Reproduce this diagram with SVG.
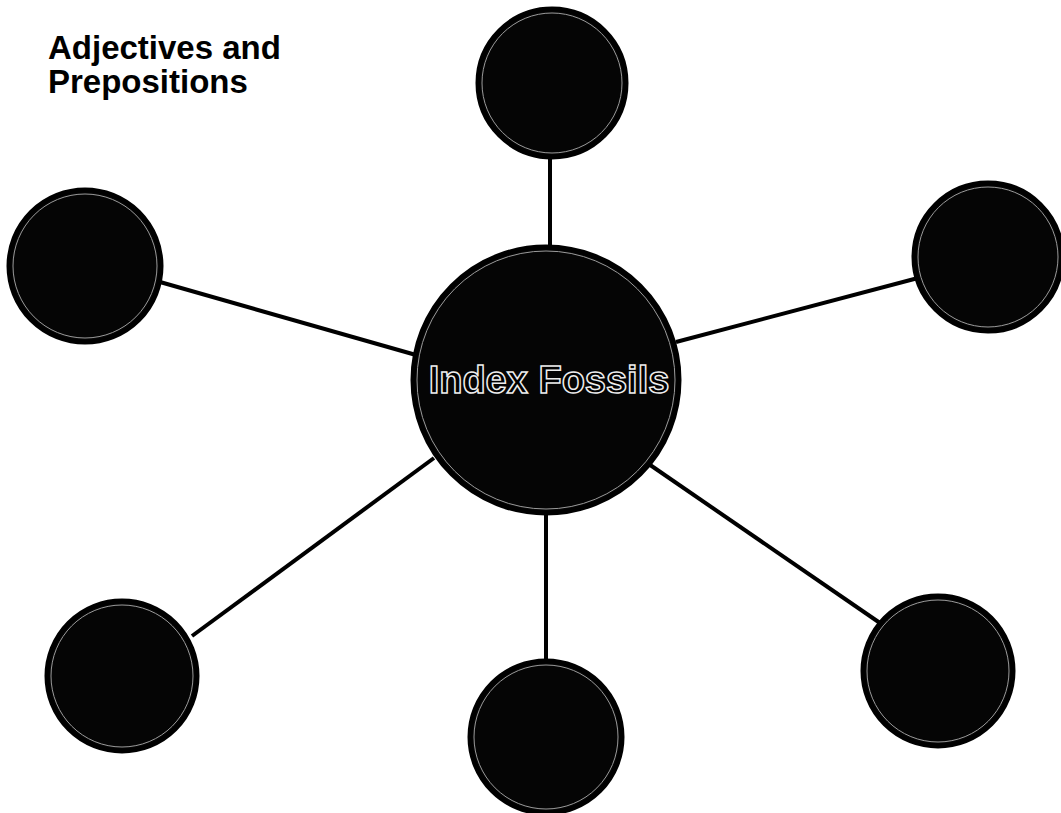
<svg xmlns="http://www.w3.org/2000/svg" width="1061" height="813" viewBox="0 0 1061 813">
<style>
.node{fill:#050505;stroke:#000;stroke-width:5}
.ring{fill:none;stroke:#9a9a9a;stroke-width:1}
.edge{stroke:#000;stroke-width:4;fill:none}
.title{font-family:"Liberation Sans",Arial,sans-serif;font-weight:bold;font-size:33px;fill:#000}
.label{font-family:"Liberation Sans",Arial,sans-serif;font-weight:bold;font-size:38px;fill:#000;stroke:#eee;stroke-width:1.5}
</style>
<rect width="1061" height="813" fill="#fff"/>
<text class="title" x="48" y="59">Adjectives and</text>
<text class="title" x="48" y="93">Prepositions</text>
<g id="connectors">
<line class="edge" x1="550" y1="158" x2="550" y2="248"/>
<line class="edge" x1="160" y1="282" x2="416" y2="355"/>
<line class="edge" x1="676" y1="342" x2="918" y2="278"/>
<line class="edge" x1="192" y1="636" x2="434" y2="458"/>
<line class="edge" x1="546" y1="510" x2="546" y2="662"/>
<line class="edge" x1="640" y1="458" x2="880" y2="623"/>
</g>
<g id="center">
<circle class="node" cx="546" cy="380" r="133"/>
<circle class="ring" cx="546" cy="380" r="129"/>
<text class="label" x="549" y="393" text-anchor="middle">Index Fossils</text>
</g>
<g id="top">
<circle class="node" cx="552" cy="83" r="74"/>
<circle class="ring" cx="552" cy="83" r="70"/>
</g>
<g id="left">
<circle class="node" cx="85" cy="266" r="76"/>
<circle class="ring" cx="85" cy="266" r="72"/>
</g>
<g id="right">
<circle class="node" cx="988" cy="257" r="74"/>
<circle class="ring" cx="988" cy="257" r="70"/>
</g>
<g id="bottom-left">
<circle class="node" cx="122" cy="676" r="75"/>
<circle class="ring" cx="122" cy="676" r="71"/>
</g>
<g id="bottom-center">
<circle class="node" cx="546" cy="737" r="76"/>
<circle class="ring" cx="546" cy="737" r="72"/>
</g>
<g id="bottom-right">
<circle class="node" cx="938" cy="671" r="75"/>
<circle class="ring" cx="938" cy="671" r="71"/>
</g>
</svg>
